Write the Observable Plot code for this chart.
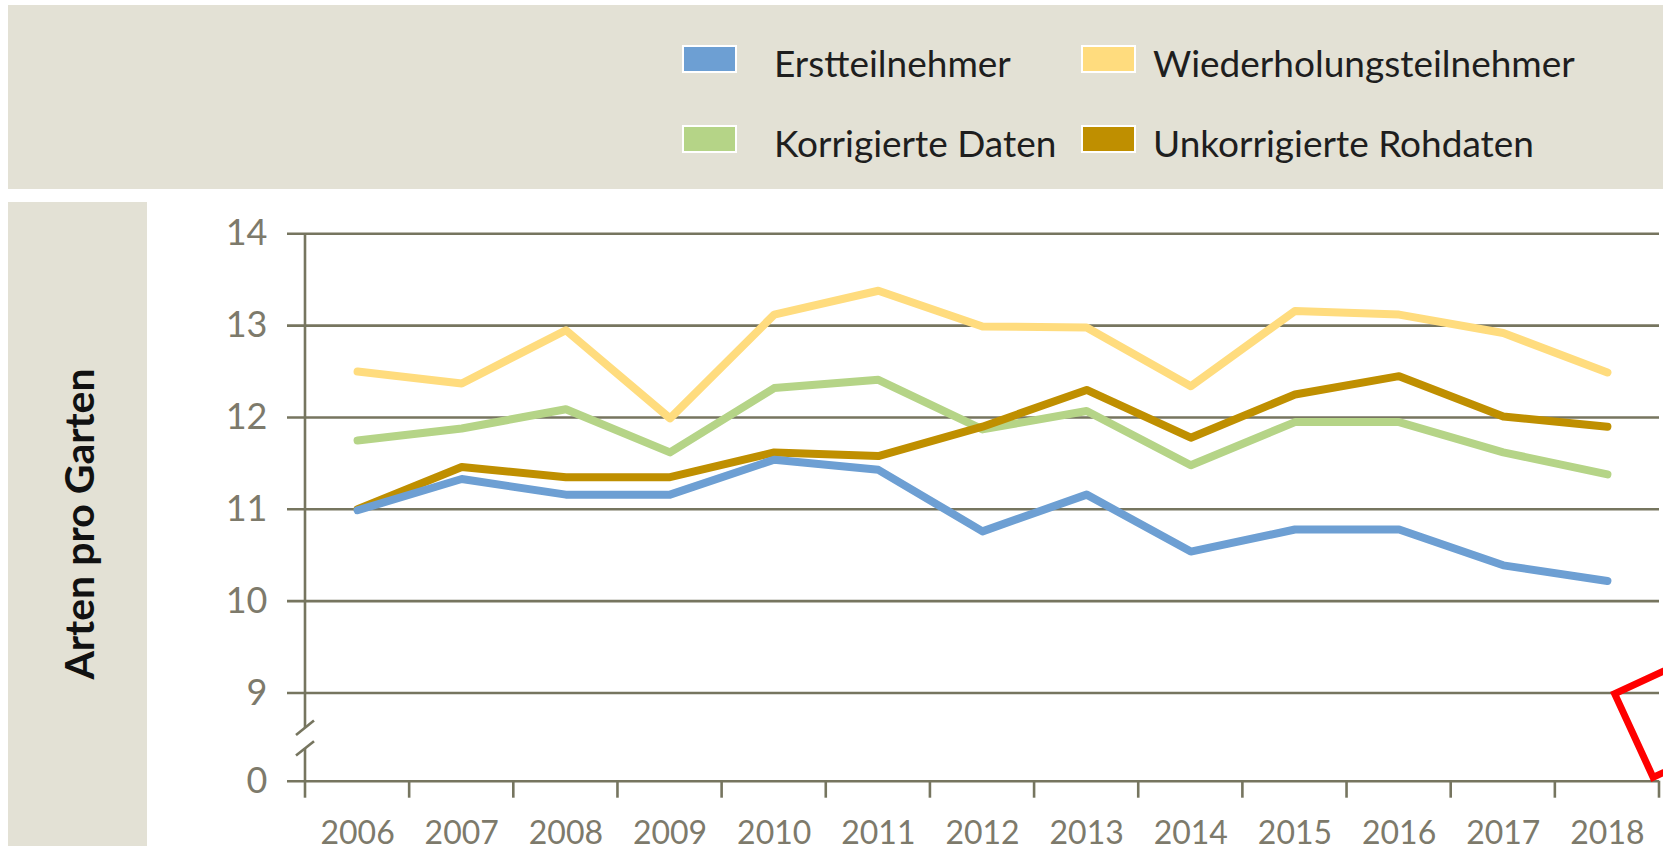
<!DOCTYPE html>
<html><head><meta charset="utf-8">
<script src="https://cdn.jsdelivr.net/npm/d3@7"></script>
<script src="https://cdn.jsdelivr.net/npm/@observablehq/plot@0.6"></script>
<style>
html,body{margin:0;padding:0;background:#fff;}
body{width:1663px;height:852px;position:relative;overflow:hidden;font-family:Lato,"Open Sans",sans-serif;}
#legendBox{position:absolute;left:8px;top:5px;width:1655px;height:184px;background:#e3e1d5;}
#legend{position:absolute;left:674px;top:40px;display:grid;grid-template-columns:399px auto;grid-auto-rows:80px;}
.item{display:flex;align-items:center;height:28px;}
.sw{width:51px;height:24px;border:2px solid #fff;box-sizing:content-box;flex:none;}
.lbl{font-size:37px;color:#1e1e1e;line-height:1;position:relative;top:3px;white-space:nowrap;}
.col0 .lbl{margin-left:37px}
.col1 .lbl{margin-left:17px}
#chart{position:absolute;left:0;top:190px;}
#ylabBox{position:absolute;left:8px;top:202px;width:139px;height:644px;background:#e3e1d5;z-index:2;}
#ylab{position:absolute;left:50%;top:50%;transform:translate(-50%,-50%) rotate(-90deg);white-space:nowrap;font-size:41px;font-weight:700;color:#111;}
#mark{position:absolute;left:1610px;top:692px;width:130px;height:99px;border:7px solid #ff0000;transform-origin:0 0;transform:rotate(-24.7deg);box-sizing:border-box;z-index:3;}
</style>
</head>
<body>
<div id="legendBox"><div id="legend"></div></div>
<div id="chart"></div>
<div id="ylabBox"><div id="ylab">Arten pro Garten</div></div>
<div id="mark"></div>
<script>
// ---- data ----
const years = [2006, 2007, 2008, 2009, 2010, 2011, 2012, 2013, 2014, 2015, 2016, 2017, 2018];
const seriesNames = ["Erstteilnehmer", "Wiederholungsteilnehmer", "Korrigierte Daten", "Unkorrigierte Rohdaten"];
const seriesColors = ["#6d9fd3", "#ffdc7e", "#b5d487", "#bf8f00"];
const erstteilnehmer = [10.99, 11.33, 11.16, 11.16, 11.54, 11.43, 10.76, 11.16, 10.54, 10.78, 10.78, 10.39, 10.22];
const wiederholung = [12.50, 12.37, 12.95, 11.99, 13.12, 13.38, 12.99, 12.98, 12.34, 13.16, 13.12, 12.92, 12.49];
const korrigiert = [11.75, 11.88, 12.09, 11.62, 12.32, 12.41, 11.87, 12.07, 11.48, 11.95, 11.95, 11.62, 11.38];
const unkorrigiert = [11.00, 11.46, 11.35, 11.35, 11.62, 11.58, 11.90, 12.30, 11.78, 12.25, 12.45, 12.01, 11.90];
const yTicks = [0, 9, 10, 11, 12, 13, 14];

// ---- styles ----
const gridColor = "#76755f";
const tickColor = "#7d7a6b";

// ---- legend ----
const legend = document.getElementById("legend");
seriesNames.forEach((name, i) => {
  const item = document.createElement("div");
  item.className = "item col" + (i % 2);
  const sw = document.createElement("div");
  sw.className = "sw";
  sw.style.background = seriesColors[i];
  const lbl = document.createElement("span");
  lbl.className = "lbl";
  lbl.textContent = name;
  item.appendChild(sw); item.appendChild(lbl);
  legend.appendChild(item);
});

// ---- rows (drawing order: green, yellow, gold, blue) ----
const valuesBySeries = [erstteilnehmer, wiederholung, korrigiert, unkorrigiert];
const drawOrder = [2, 1, 3, 0];
const rows = [];
for (const s of drawOrder) years.forEach((yr, j) => rows.push({series: seriesNames[s], year: yr, value: valuesBySeries[s][j]}));

const boundaries = years.map(y => y - 0.5).concat([years[years.length - 1] + 0.5]);

function axisDecor(index, scales) {
  const x = scales.x, y = scales.y;
  const g = d3.create("svg:g").attr("stroke", gridColor).attr("stroke-width", 2.6).attr("fill", "none");
  const x0 = x(boundaries[0]);
  const yb = (y(0) + y(9)) / 2 + 1.5;
  const gap = 10.3;
  g.append("line").attr("x1", x0).attr("x2", x0).attr("y1", y(14)).attr("y2", yb - gap);
  g.append("line").attr("x1", x0).attr("x2", x0).attr("y1", yb + gap).attr("y2", y(0));
  for (const s of [-gap, gap]) {
    g.append("line").attr("x1", x0 - 9).attr("y1", yb + s + 7.2).attr("x2", x0 + 9).attr("y2", yb + s - 7.2);
  }
  for (const b of boundaries) {
    g.append("line").attr("x1", x(b)).attr("x2", x(b)).attr("y1", y(0)).attr("y2", y(0) + 17);
  }
  return g.node();
}

const H = 662;
const chart = Plot.plot({
  width: 1663,
  height: H,
  marginLeft: 287,
  marginRight: 4,
  marginTop: 0,
  marginBottom: H - 590.7,
  style: {fontFamily: "Lato, sans-serif", background: "transparent", overflow: "visible"},
  x: {type: "linear", domain: [boundaries[0], boundaries[boundaries.length - 1]], range: [305, 1659], axis: null},
  y: {type: "linear", domain: [0, 9, 14], range: [590.7, 502.5, 43.3], axis: null},
  color: {domain: seriesNames, range: seriesColors},
  marks: [
    Plot.ruleY(yTicks, {y: d => d, stroke: gridColor, strokeWidth: 2.6}),
    axisDecor,
    Plot.line(rows, {x: "year", y: "value", z: "series", stroke: "series", strokeWidth: 8, strokeLinejoin: "round", strokeLinecap: "round"}),
    Plot.text(yTicks, {x: () => boundaries[0], y: d => d, text: d => String(d), textAnchor: "end", dx: -38, fontSize: 36, fill: tickColor}),
    Plot.text(years, {x: d => d, y: () => 0, text: d => String(d), dy: 53, fontSize: 32, fill: tickColor})
  ]
});
document.getElementById("chart").appendChild(chart);
</script>
</body></html>
